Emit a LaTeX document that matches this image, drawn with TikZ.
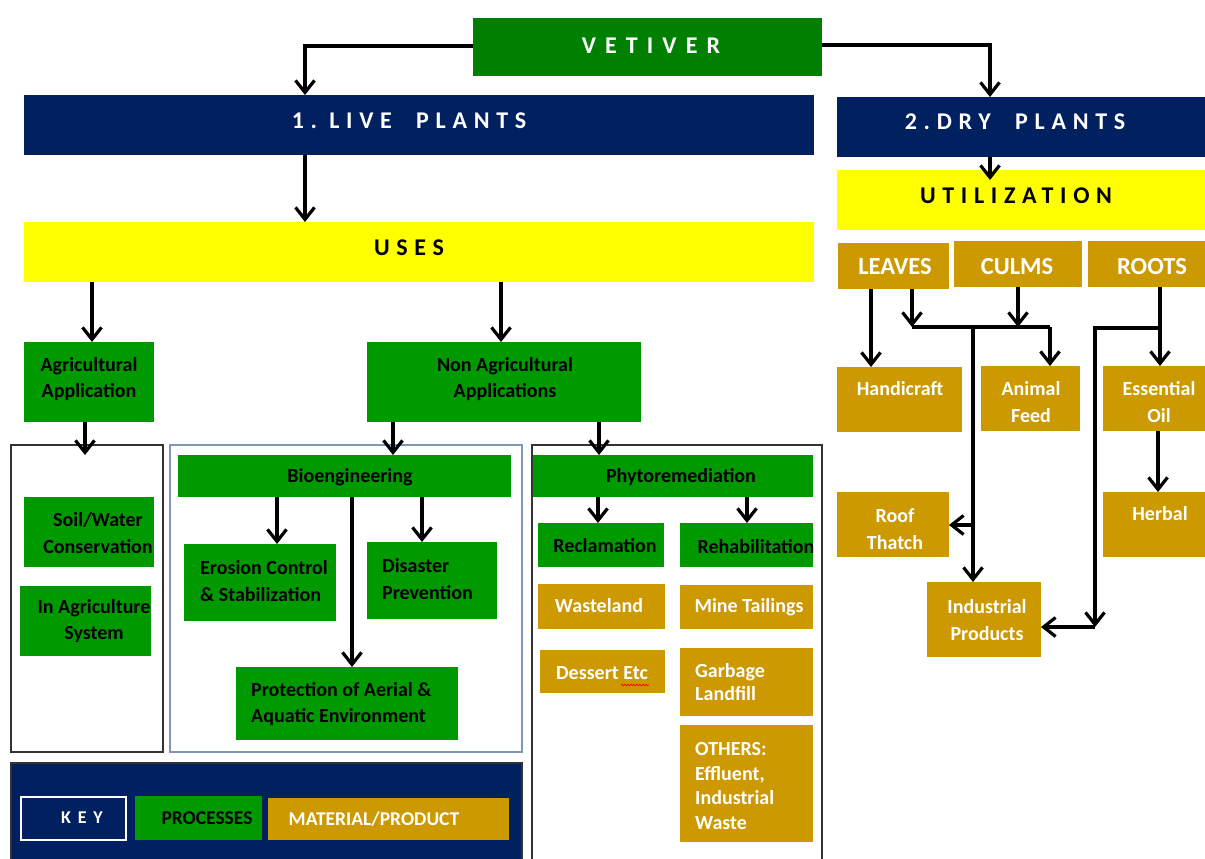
\documentclass[tikz,border=0pt]{standalone}
\usepackage{fontspec}
\setmainfont{Carlito}
\newfontfamily\ttlfont[LetterSpace=28]{Carlito}
\newfontfamily\vetfont[LetterSpace=38]{Carlito}
\usetikzlibrary{arrows.meta,fit,decorations.pathmorphing}
\definecolor{vgreen}{HTML}{008000}
\definecolor{pgreen}{HTML}{009900}
\definecolor{navy}{HTML}{002060}
\definecolor{gold}{HTML}{CC9900}
\definecolor{ylw}{HTML}{FFFF00}
\definecolor{bioedge}{HTML}{8097BA}
\definecolor{edge}{HTML}{333333}
\begin{document}
\begin{tikzpicture}[x=1pt,y=-1pt,
  shp/.style={inner sep=0pt, outer sep=0pt, draw=none},
  gbox/.style={shp, fill=pgreen},
  obox/.style={shp, fill=gold},
  nbox/.style={shp, fill=navy},
  ybox/.style={shp, fill=ylw},
  cont/.style={inner sep=0pt, outer sep=0pt, draw=edge, line width=1.5pt},
  txt/.style={inner sep=0pt, align=center, font=\fontsize{20}{26.5}\selectfont\bfseries},
  wtxt/.style={txt, text=white},
  ltxt/.style={txt, align=left},
  wltxt/.style={ltxt, text=white},
  ttl/.style={inner sep=0pt, font=\fontsize{24}{28}\selectfont\ttlfont\bfseries},
  line/.style={draw=black, line width=3.2pt},
  arr/.style={line, -{Straight Barb[length=12pt,width=19pt]}}
]
\useasboundingbox[fill=white] (0,0) rectangle (1205,859);

% containers
\node[cont, fit={(11,445) (163,752)}] (agricont) {};
\node[cont, draw=bioedge, fit={(170,445) (522,752)}] (biocont) {};
\node[cont, fit={(532,445) (822,866)}] (phytocont) {};
\node[cont, fill=navy, fit={(11,763) (522,866)}] (keyarea) {};

% top level
\node[shp, fill=vgreen, fit={(473,18) (822,76)}] (vet) {};
\node[ttl, text=white, font=\fontsize{24}{28}\selectfont\vetfont\bfseries] (vet-t) at (651,46) {VETIVER};
\node[nbox, fit={(24,95) (814,155)}] (live) {};
\node[ttl, text=white] (live-t) at (409,121) {1.\ LIVE\ \ PLANTS};
\node[nbox, fit={(837,97) (1205,157)}] (dry) {};
\node[ttl, text=white] (dry-t) at (1015,122) {2.DRY\ \ PLANTS};
\node[ybox, fit={(24,222) (814,282)}] (uses) {};
\node[ttl] (uses-t) at (409,248) {USES};
\node[ybox, fit={(837,170) (1205,230)}] (util) {};
\node[ttl] (util-t) at (1016,196) {UTILIZATION};

% live plants side
\node[gbox, fit={(24,342) (154,422)}] (agri) {};
\node[txt] (agri-t) at (89,379) {Agricultural\\Application};
\node[gbox, fit={(367,342) (641,422)}] (nonagri) {};
\node[txt] (nonagri-t) at (505,379) {Non Agricultural\\Applications};
\node[gbox, fit={(24,497) (154,567)}] (soil) {};
\node[txt] (soil-t) at (98,533) {Soil/Water\\Conservation};
\node[gbox, fit={(20,586) (151,656)}] (insys) {};
\node[txt] (insys-t) at (94,621) {In Agriculture\\System};

\node[gbox, fit={(178,455) (511,497)}] (bio) {};
\node[txt] (bio-t) at (350,477) {Bioengineering};
\node[gbox, fit={(184,544) (336,621)}] (eros) {};
\node[ltxt, anchor=west] (eros-t) at (200,581) {Erosion Control\\\& Stabilization};
\node[gbox, fit={(367,542) (497,619)}] (disa) {};
\node[ltxt, anchor=west] (disa-t) at (382,579) {Disaster\\Prevention};
\node[gbox, fit={(236,667) (458,740)}] (prot) {};
\node[ltxt, anchor=west] (prot-t) at (251,704) {Protection of Aerial \&\\Aquatic Environment};

\node[gbox, fit={(533,455) (813,497)}] (phyto) {};
\node[txt] (phyto-t) at (681,477) {Phytoremediation};
\node[gbox, fit={(538,523) (664,567)}] (recl) {};
\node[txt] (recl-t) at (605,546) {Reclamation};
\node[gbox, fit={(680,523) (813,567)}] (rehab) {};
\node[txt] (rehab-t) at (756,547) {Rehabilitation};
\node[obox, fit={(538,584) (665,629)}] (waste) {};
\node[wtxt] (waste-t) at (599,606) {Wasteland};
\node[obox, fit={(680,585) (813,629)}] (mine) {};
\node[wtxt] (mine-t) at (749,607) {Mine Tailings};
\node[obox, fit={(540,650) (665,693)}] (dess) {};
\node[wtxt] (dess-t) at (602,673) {Dessert Etc};
\draw[red, line width=0.7pt, decorate, decoration={snake, amplitude=0.8pt, segment length=3pt}] (621,685) -- (649,685);
\node[obox, fit={(680,648) (813,716)}] (garb) {};
\node[wltxt, anchor=west, font=\fontsize{20}{23}\selectfont\bfseries] (garb-t) at (695,682) {Garbage\\Landfill};
\node[obox, fit={(680,725) (813,842)}] (oth) {};
\node[wltxt, anchor=west, font=\fontsize{20}{24.7}\selectfont\bfseries] (oth-t) at (695,786) {OTHERS:\\Effluent,\\Industrial\\Waste};

% key
\node[cont, draw=white, line width=2pt, fill=navy, fit={(21,797) (126,840)}] (keyb) {};
\node[inner sep=0pt, text=white, font=\fontsize{18}{20}\selectfont\vetfont\bfseries] (keyb-t) at (82,818) {KEY};
\node[gbox, fit={(135,796) (262,840)}] (kproc) {};
\node[txt, font=\fontsize{19.5}{22}\selectfont\bfseries] (kproc-t) at (207,818) {PROCESSES};
\node[obox, fit={(268,798) (509,840)}] (kmat) {};
\node[wtxt, font=\fontsize{19.5}{22}\selectfont\bfseries] (kmat-t) at (374,819) {MATERIAL/PRODUCT};

% dry plants side
\node[obox, fit={(838,243) (949,289)}] (leaves) {};
\node[wtxt, font=\fontsize{24.5}{28}\selectfont\bfseries] (leaves-t) at (895,267) {LEAVES};
\node[obox, fit={(954,241) (1082,287)}] (culms) {};
\node[wtxt, font=\fontsize{24.5}{28}\selectfont\bfseries] (culms-t) at (1017,267) {CULMS};
\node[obox, fit={(1088,241) (1205,287)}] (roots) {};
\node[wtxt, font=\fontsize{24.5}{28}\selectfont\bfseries] (roots-t) at (1152,267) {ROOTS};
\node[obox, fit={(837,367) (962,432)}] (handi) {};
\node[wtxt] (handi-t) at (900,389) {Handicraft};
\node[obox, fit={(981,366) (1080,431)}] (feed) {};
\node[wtxt] (feed-t) at (1031,402) {Animal\\Feed};
\node[obox, fit={(1103,366) (1205,431)}] (oil) {};
\node[wtxt] (oil-t) at (1159,402) {Essential\\Oil};
\node[obox, fit={(1103,492) (1205,557)}] (herb) {};
\node[wtxt] (herb-t) at (1160,514) {Herbal};
\node[obox, fit={(837,492) (949,557)}] (roof) {};
\node[wtxt] (roof-t) at (895,529) {Roof\\Thatch};
\node[obox, fit={(927,582) (1041,657)}] (ind) {};
\node[wtxt] (ind-t) at (987,620) {Industrial\\Products};

% connectors: top
\draw[arr] (vet.west |- 0,46) -| (305,0 |- live.north);
\draw[arr] (vet.east |- 0,45) -| (990,0 |- dry.north);
\draw[arr] (305,0 |- live.south) -- (305,0 |- uses.north);
\draw[arr] (990,0 |- dry.south) -- ([yshift=-10pt]990,0 |- util.north);
\draw[arr] (92,0 |- uses.south) -- (92,0 |- agri.north);
\draw[arr] (501,0 |- uses.south) -- (501,0 |- nonagri.north);
\draw[arr] (85,0 |- agri.south) -- ([yshift=-10pt]85,0 |- agricont.north);
\draw[arr] (393,0 |- nonagri.south) -- (393,0 |- bio.north);
\draw[arr] (599,0 |- nonagri.south) -- (599,0 |- phyto.north);
\draw[arr] (277,0 |- bio.south) -- (277,0 |- eros.north);
\draw[arr] (422,0 |- bio.south) -- (422,0 |- disa.north);
\draw[arr] (352,0 |- bio.south) -- (352,0 |- prot.north);
\draw[arr] (598,0 |- phyto.south) -- (598,0 |- recl.north);
\draw[arr] (747,0 |- phyto.south) -- (747,0 |- rehab.north);

% connectors: dry side
\coordinate (lj) at (912,327);
\coordinate (cj) at (1018,327);
\coordinate (fj) at (1050,327);
\coordinate (ij) at (973,327);
\coordinate (rt) at (973,525);
\coordinate (rj1) at (1160,328);
\coordinate (rj2) at (1095,328);
\coordinate (rj3) at (1095,627);
\draw[arr] (871,0 |- leaves.south) -- (871,0 |- handi.north);
\draw[arr] (lj |- leaves.south) -- (lj);
\draw[arr] (cj |- culms.south) -- (cj);
\draw[line] (lj) -- (fj);
\draw[arr] (fj) -- (fj |- feed.north);
\draw[arr] (ij) -- (ij |- ind.north);
\draw[arr] (rt) -- (roof.east |- rt);
\draw[arr] (1160,0 |- roots.south) -- (1160,0 |- oil.north);
\draw[arr] (rj1) -- (rj2) -- (rj3);
\draw[arr] (rj3) -- (ind.east |- rj3);
\draw[arr] (1158,0 |- oil.south) -- (1158,0 |- herb.north);
\end{tikzpicture}
\end{document}
